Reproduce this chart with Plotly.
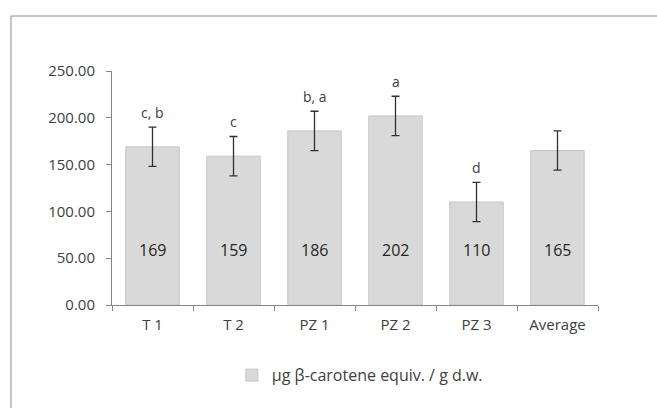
import plotly.graph_objects as go

categories = ["T 1", "T 2", "PZ 1", "PZ 2", "PZ 3", "Average"]
values = [169, 159, 186, 202, 110, 165]
errors = [21, 21, 21, 21, 21, 21]
letters = ["c, b", "c", "b, a", "a", "d", ""]
y_ticks = [0, 50, 100, 150, 200, 250]
series_name = "µg β-carotene equiv. / g d.w."

FONT = "Open Sans"
TXT = "#404040"

fig = go.Figure()
fig.add_trace(go.Bar(
    x=categories, y=values, name=series_name,
    marker=dict(color="#d9d9d9", line=dict(color="#c6c6c6", width=1)),
    width=0.66,
    error_y=dict(type="data", array=errors, visible=True,
                 color="#303030", thickness=1.3, width=4),
))

annotations = []
for c, v, e, l in zip(categories, values, errors, letters):
    annotations.append(dict(x=c, y=59, text=str(v), showarrow=False,
                            font=dict(family=FONT, size=16, color="#262626"),
                            xref="x", yref="y"))
    if l:
        annotations.append(dict(x=c, y=v + e, text=l, showarrow=False,
                                yshift=15, font=dict(family=FONT, size=14, color=TXT),
                                xref="x", yref="y"))

fig.update_layout(
    width=657, height=408,
    margin=dict(l=112, r=59, t=71, b=103),
    paper_bgcolor="white", plot_bgcolor="white",
    font=dict(family=FONT, size=15, color=TXT),
    showlegend=True,
    legend=dict(orientation="h", x=0.51, xanchor="center", y=-0.3, yanchor="middle",
                font=dict(family=FONT, size=16, color=TXT)),
    annotations=annotations,
    shapes=[
        dict(type="line", xref="paper", yref="paper", x0=-0.2078, x1=1.2, y0=1.235, y1=1.235,
             line=dict(color="#8c8c8c", width=1)),
        dict(type="line", xref="paper", yref="paper", x0=-0.2078, x1=-0.2078, y0=1.235, y1=-0.6,
             line=dict(color="#8c8c8c", width=1)),
    ],
)
fig.update_xaxes(showline=True, linecolor="#868686", linewidth=1,
                 ticks="outside", tickson="boundaries", ticklen=5, tickcolor="#868686",
                 ticklabelstandoff=6,
                 showgrid=False, tickfont=dict(family=FONT, size=15, color=TXT))
fig.update_yaxes(range=[0, 250], tickvals=y_ticks,
                 ticktext=[f"{t:.2f}" for t in y_ticks],
                 showline=True, linecolor="#868686", linewidth=1,
                 ticks="outside", ticklen=5, tickcolor="#868686",
                 ticklabelstandoff=8,
                 showgrid=False, zeroline=False,
                 tickfont=dict(family=FONT, size=15, color=TXT))

fig.write_html("out.html")
